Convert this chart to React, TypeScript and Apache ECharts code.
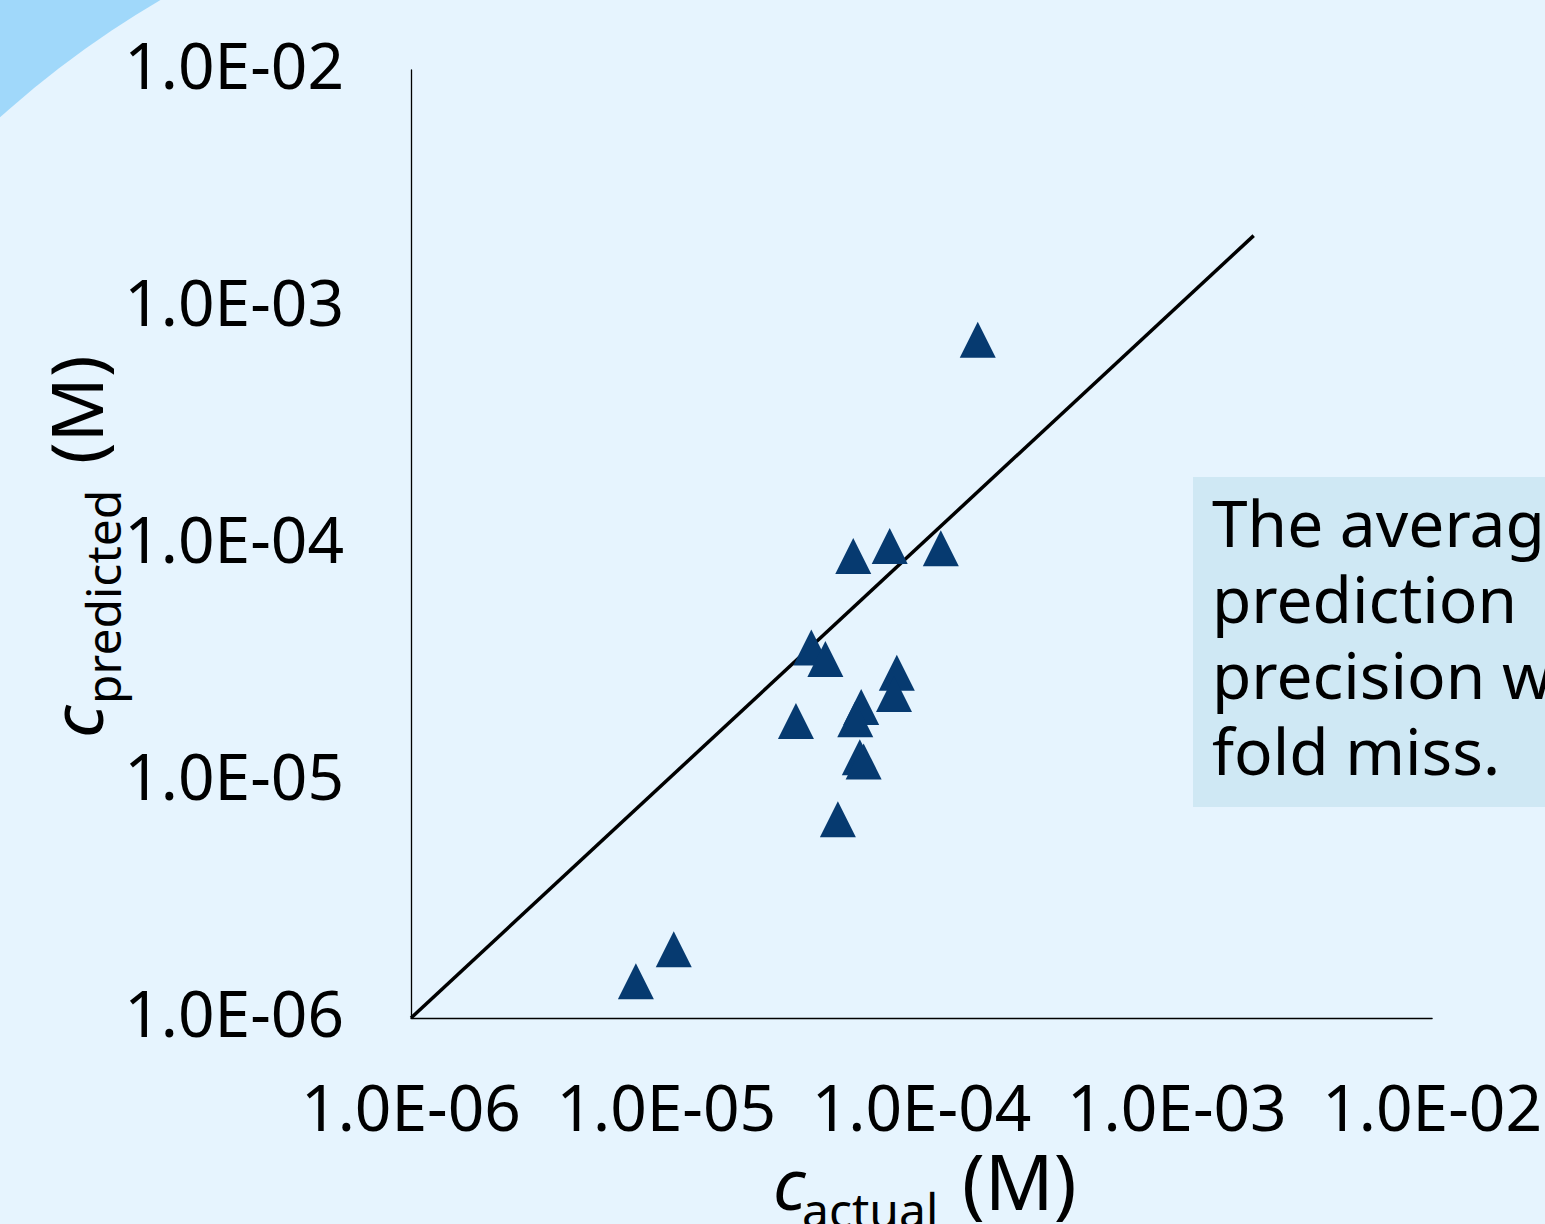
import React, { useEffect, useRef } from "react";
import * as echarts from "echarts";

// ---- data ----
const actualConc = [
  5.4e-5, 7.5e-5, 1.19e-4, 3.7e-5, 4.2e-5, 8.0e-5, 7.8e-5, 3.22e-5,
  5.8e-5, 5.5e-5, 5.73e-5, 5.93e-5, 4.7e-5, 1.07e-5, 7.6e-6, 1.66e-4,
];
const predictedConc = [
  8.9e-5, 9.8e-5, 9.6e-5, 3.66e-5, 3.27e-5, 2.86e-5, 2.33e-5, 1.79e-5,
  2.05e-5, 1.82e-5, 1.26e-5, 1.21e-5, 6.9e-6, 1.95e-6, 1.43e-6, 7.27e-4,
];
const identityX = [1e-6, 2e-3];
const identityY = [1e-6, 2e-3];
const axisMin = 1e-6;
const axisMax = 1e-2;
const noteLines = ["The average", "prediction", "precision was 2-", "fold miss."];

const FONT = "Noto Sans";

function fmtTick(v: number): string {
  const e = Math.round(Math.log10(v));
  const sign = e < 0 ? "-" : "+";
  return "1.0E" + sign + String(Math.abs(e)).padStart(2, "0");
}

export default function App() {
  const ref = useRef<HTMLDivElement>(null);

  useEffect(() => {
    if (!ref.current) return;
    const chart = echarts.init(ref.current, null, { renderer: "svg" });

    const scatterData = actualConc.map((x, i) => [x, predictedConc[i]]);
    const lineData = identityX.map((x, i) => [x, identityY[i]]);

    const mainSize = 72;
    const subSize = 48;
    const mainDy = -28;
    const subDy = 18 - 18.6;

    const option: any = {
      animation: false,
      backgroundColor: "#E6F4FE",
      grid: { left: 411, right: 109, top: 70, bottom: 206, containLabel: false },
      xAxis: {
        type: "log",
        logBase: 10,
        min: axisMin,
        max: axisMax,
        axisLine: { show: true, onZero: false, lineStyle: { color: "#000", width: 1.3 } },
        axisTick: { show: false },
        splitLine: { show: false },
        minorTick: { show: false },
        axisLabel: {
          margin: 56,
          fontSize: 64,
          fontFamily: FONT,
          color: "#000",
          formatter: (v: number) => fmtTick(v),
        },
      },
      yAxis: {
        type: "log",
        logBase: 10,
        min: axisMin,
        max: axisMax,
        axisLine: { show: true, onZero: false, lineStyle: { color: "#000", width: 1.3 } },
        axisTick: { show: false },
        splitLine: { show: false },
        axisLabel: {
          margin: 67,
          fontSize: 64,
          fontFamily: FONT,
          color: "#000",
          verticalAlign: "bottom",
          lineHeight: 12,
          formatter: (v: number) => fmtTick(v),
        },
      },
      series: [
        {
          type: "line",
          data: lineData,
          showSymbol: false,
          symbol: "none",
          lineStyle: { color: "#000", width: 3.5 },
          z: 2,
          silent: true,
        },
        {
          type: "scatter",
          data: scatterData,
          symbol: "triangle",
          symbolSize: 36,
          itemStyle: { color: "#063A70", opacity: 1 },
          z: 3,
        },
      ],
      graphic: [
        { type: "rect", z: -100, silent: true, shape: { x: 0, y: 0, width: 220, height: 220 }, style: { fill: "#A0D8FA" } },
        { type: "circle", z: -99, silent: true, shape: { cx: 658, cy: 849, r: 984 }, style: { fill: "#E6F4FE" } },
        { type: "rect", z: 50, silent: true, shape: { x: 1193, y: 477, width: 400, height: 330 }, style: { fill: "#CFE8F4" } },
        {
          type: "text",
          z: 51,
          x: 1212,
          y: 484,
          style: {
            text: noteLines.join("\n"),
            fontSize: 64,
            fontFamily: FONT,
            lineHeight: 76,
            fill: "#000",
            align: "left",
            verticalAlign: "top",
          },
        },
        // x axis title
        {
          type: "group",
          z: 51,
          x: 0,
          y: 1210,
          children: [
            { type: "text", x: 773, y: mainDy, style: { text: "c", fontSize: mainSize, fontFamily: FONT, fontStyle: "italic", fill: "#000", align: "left", verticalAlign: "middle" } },
            { type: "text", x: 802, y: subDy, style: { text: "actual", fontSize: subSize, fontFamily: FONT, fill: "#000", align: "left", verticalAlign: "middle" } },
            { type: "text", x: 962, y: -29.5, style: { text: "(M)", fontSize: 76, fontFamily: FONT, fill: "#000", align: "left", verticalAlign: "middle" } },
          ],
        },
        // y axis title (rotated, reads bottom to top)
        {
          type: "group",
          z: 51,
          x: 103,
          y: 735,
          rotation: Math.PI / 2,
          children: [
            { type: "text", x: -3, y: mainDy, style: { text: "c", fontSize: mainSize, fontFamily: FONT, fontStyle: "italic", fill: "#000", align: "left", verticalAlign: "middle" } },
            { type: "text", x: 31, y: subDy, style: { text: "predicted", fontSize: subSize, fontFamily: FONT, fill: "#000", align: "left", verticalAlign: "middle" } },
            { type: "text", x: 271, y: mainDy, style: { text: "(M)", fontSize: mainSize, fontFamily: FONT, fill: "#000", align: "left", verticalAlign: "middle" } },
          ],
        },
      ],
    };

    chart.setOption(option);
    return () => chart.dispose();
  }, []);

  return (
    <div
      ref={ref}
      style={{ position: "fixed", left: 0, top: 0, width: 1545, height: 1224, background: "#E6F4FE" }}
    />
  );
}
